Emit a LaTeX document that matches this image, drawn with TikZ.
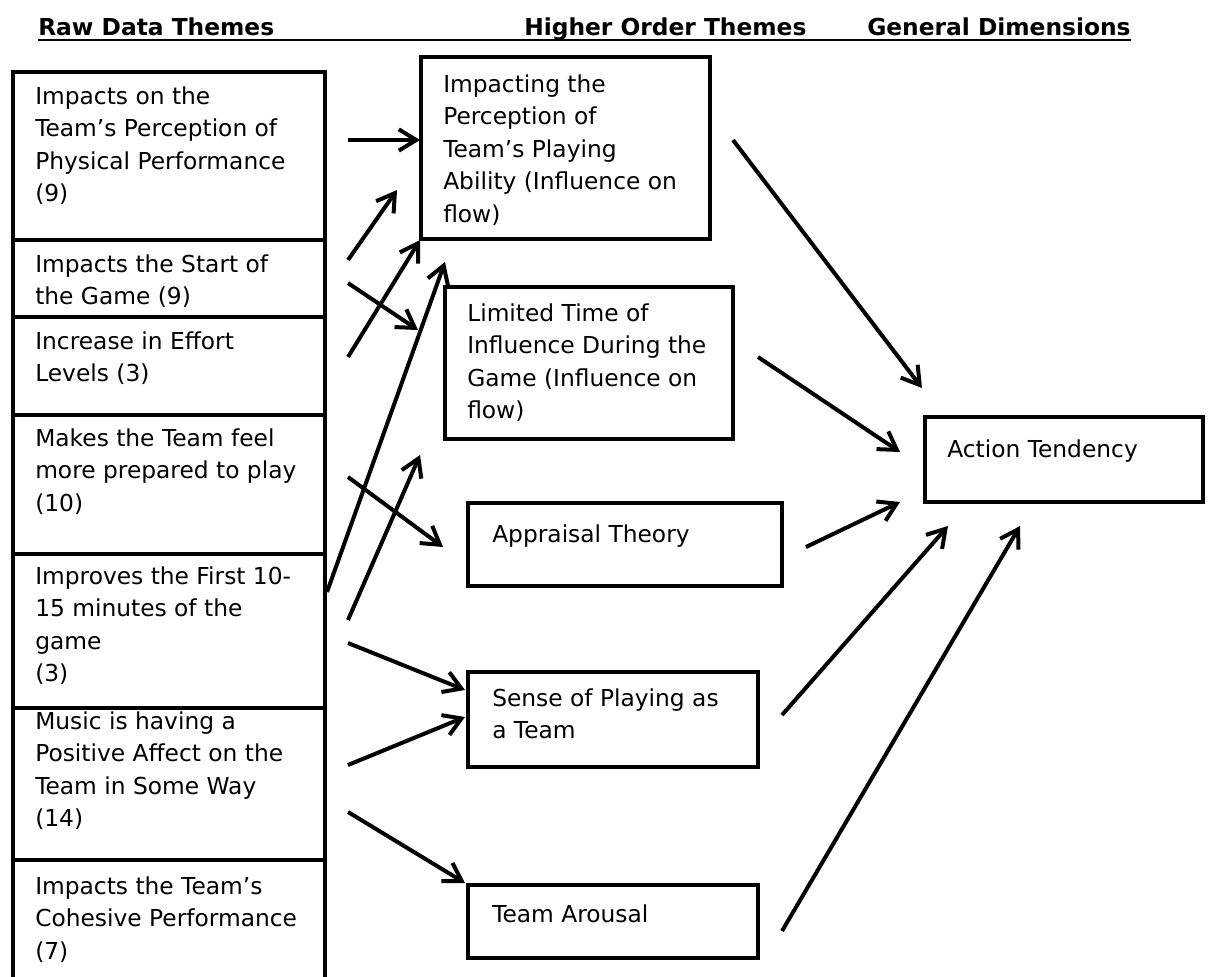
\documentclass[tikz,border=0pt]{standalone}
\usepackage{fontspec}
\setmainfont{DejaVu Sans}
\usepackage{tikz}
\usetikzlibrary{positioning,arrows.meta}

\begin{document}
\begin{tikzpicture}[x=0.75pt, y=-0.75pt,
  box/.style={draw, line width=3pt, anchor=north west, inner sep=0pt, outer sep=0pt, minimum width=#1},
  box/.default=234pt,
  txt/.style={anchor=north west, inner sep=0pt, align=left, font=\fontsize{17.5pt}{24.4pt}\selectfont, execute at begin node=\strut},
  head/.style={anchor=base west, inner sep=0pt, font=\fontsize{17.5pt}{21pt}\selectfont\bfseries},
  arr/.style={-{Straight Barb[length=13pt, width=16pt]}, line width=3pt}]
  \useasboundingbox (0,0) rectangle (1208,976);
  \clip (0,0) rectangle (1208,976);
  \node[head] (raw) at (38,35) {Raw Data Themes};
  \node[head] (higher) at (524,35) {Higher Order Themes};
  \node[head] (gen) at (867,35) {General Dimensions};
  \draw[line width=2.2pt] ([shift={(0,5)}]raw.base west) -- ([shift={(0,5)}]gen.base east);
  \node[box, minimum height=126pt] (r1) at (13,72) {};
  \node[txt] (r1t) at ([shift={(22,14)}]r1.north west) {Impacts on the\\Team’s Perception of\\Physical Performance\\(9)};
  \node[box, minimum height=57.75pt, below=0pt of r1] (r2) {};
  \node[txt] (r2t) at ([shift={(22,14)}]r2.north west) {Impacts the Start of\\the Game (9)};
  \node[box, minimum height=73.5pt, below=0pt of r2] (r3) {};
  \node[txt] (r3t) at ([shift={(22,14)}]r3.north west) {Increase in Effort\\Levels (3)};
  \node[box, minimum height=104.25pt, below=0pt of r3] (r4) {};
  \node[txt] (r4t) at ([shift={(22,13)}]r4.north west) {Makes the Team feel\\more prepared to play\\(10)};
  \node[box, minimum height=115.5pt, below=0pt of r4] (r5) {};
  \node[txt] (r5t) at ([shift={(22,12)}]r5.north west) {Improves the First 10-\\15 minutes of the\\game\\(3)};
  \node[box, minimum height=114pt, below=0pt of r5] (r6) {};
  \node[txt] (r6t) at ([shift={(22,3)}]r6.north west) {Music is having a\\Positive Affect on the\\Team in Some Way\\(14)};
  \node[box, minimum height=97.5pt, below=0pt of r6] (r7) {};
  \node[txt] (r7t) at ([shift={(22,16)}]r7.north west) {Impacts the Team’s\\Cohesive Performance\\(7)};
  \node[box=216.75pt, minimum height=136.5pt] (h1) at (421,57) {};
  \node[txt] (h1t) at ([shift={(22,17)}]h1.north west) {Impacting the\\Perception of\\Team’s Playing\\Ability (Influence on\\flow)};
  \node[box=216pt, minimum height=114pt] (h2) at (445,287) {};
  \node[txt] (h2t) at ([shift={(22,16)}]h2.north west) {Limited Time of\\Influence During the\\Game (Influence on\\flow)};
  \node[box=235.5pt, minimum height=62.25pt] (h3) at (468,503) {};
  \node[txt] (h3t) at ([shift={(24,16)}]h3.north west) {Appraisal Theory};
  \node[box=217.5pt, minimum height=71.25pt] (h4) at (468,672) {};
  \node[txt] (h4t) at ([shift={(24,16)}]h4.north west) {Sense of Playing as\\a Team};
  \node[box=217.5pt, minimum height=54.75pt] (h5) at (468,885) {};
  \node[txt] (h5t) at ([shift={(24,14)}]h5.north west) {Team Arousal};
  \node[box=208.5pt, minimum height=63.75pt] (act) at (925,417) {};
  \node[txt] (actt) at ([shift={(22,17)}]act.north west) {Action Tendency};
  \draw[arr] ([shift={(23,68)}]r1.north east) -- ([shift={(-1,83)}]h1.north west);
  \draw[arr] ([shift={(23,20)}]r2.north east) -- ([shift={(-24,133)}]h1.north west);
  \draw[arr] ([shift={(23,43)}]r2.north east) -- ([shift={(-27,43)}]h2.north west);
  \draw[arr] ([shift={(23,40)}]r3.north east) -- ([shift={(-1,1)}]h1.south west);
  \draw[arr] ([shift={(2,38)}]r5.north east) -- ([shift={(0,-25)}]h2.north west);
  \draw[arr] ([shift={(23,62)}]r4.north east) -- ([shift={(-25,44)}]h3.north west);
  \draw[arr] ([shift={(23,66)}]r5.north east) -- ([shift={(-25,16)}]h2.south west);
  \draw[arr] ([shift={(23,89)}]r5.north east) -- ([shift={(-3,18)}]h4.north west);
  \draw[arr] ([shift={(23,57)}]r6.north east) -- ([shift={(-3,45)}]h4.north west);
  \draw[arr] ([shift={(23,104)}]r6.north east) -- ([shift={(-3,-2)}]h5.north west);
  \draw[arr] ([shift={(23,83)}]h1.north east) -- ([shift={(-3,-29)}]act.north west);
  \draw[arr] ([shift={(25,70)}]h2.north east) -- ([shift={(-25,35)}]act.north west);
  \draw[arr] ([shift={(24,44)}]h3.north east) -- ([shift={(-25,0)}]act.south west);
  \draw[arr] ([shift={(24,43)}]h4.north east) -- ([shift={(23,24)}]act.south west);
  \draw[arr] ([shift={(24,46)}]h5.north east) -- ([shift={(95,24)}]act.south west);
\end{tikzpicture}
\end{document}
